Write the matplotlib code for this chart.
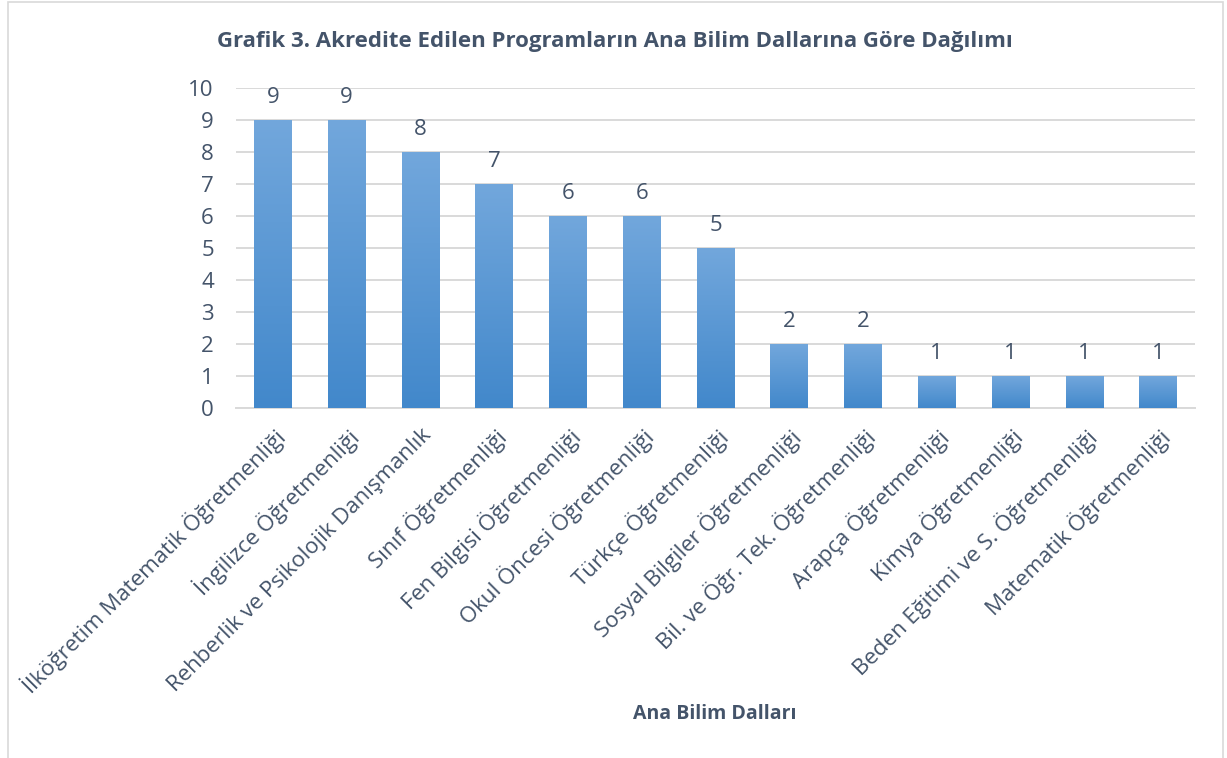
import matplotlib
matplotlib.use("Agg")
import matplotlib.pyplot as plt
import numpy as np
from matplotlib.patches import Rectangle
from matplotlib.colors import LinearSegmentedColormap

categories = ["İlköğretim Matematik Öğretmenliği", "İngilizce Öğretmenliği",
              "Rehberlik ve Psikolojik Danışmanlık", "Sınıf Öğretmenliği",
              "Fen Bilgisi Öğretmenliği", "Okul Öncesi Öğretmenliği",
              "Türkçe Öğretmenliği", "Sosyal Bilgiler Öğretmenliği",
              "Bil. ve Öğr. Tek. Öğretmenliği", "Arapça Öğretmenliği",
              "Kimya Öğretmenliği", "Beden Eğitimi ve S. Öğretmenliği",
              "Matematik Öğretmenliği"]
values = [9, 9, 8, 7, 6, 6, 5, 2, 2, 1, 1, 1, 1]
yticks = list(range(0, 11))

plt.rcParams['font.family'] = ['Open Sans', 'DejaVu Sans']
txt = '#44546a'
fig = plt.figure(figsize=(12.27, 7.58), dpi=100)
ax = fig.add_axes([236/1227, 1-408/758, (1195-236)/1227, (408-88)/758])

x = np.arange(len(categories))
bw = 0.51
bars = ax.bar(x, values, width=bw, color='none', zorder=3)
cmap = LinearSegmentedColormap.from_list('g', ['#4288cb', '#72a7dc'])
for b in bars:
    xx, yy = b.get_x(), b.get_y()
    w, h = b.get_width(), b.get_height()
    im = ax.imshow(np.linspace(0, 1, 256).reshape(-1, 1), cmap=cmap, aspect='auto',
                   extent=[xx, xx + w, yy, yy + h], origin='lower', zorder=3)
    im.set_clip_path(b)

for xi, v in zip(x, values):
    ax.text(xi, v + 0.38, str(v), ha='center', va='bottom', fontsize=16, color=txt, zorder=4)

ax.set_xlim(-0.5, len(categories) - 0.5)
ax.set_ylim(0, 10)
ax.set_yticks(yticks)
ax.set_yticklabels([str(t) for t in yticks], fontsize=16, color=txt)
ax.yaxis.grid(True, color='#d9d9d9', linewidth=1.4, zorder=0)
ax.set_axisbelow(True)
for s in ['top', 'right', 'left']:
    ax.spines[s].set_visible(False)
ax.spines['bottom'].set_color('#d9d9d9')
ax.spines['bottom'].set_linewidth(1.4)
ax.tick_params(axis='both', length=0)
ax.tick_params(axis='y', pad=16)
ax.set_xticks(x)
ax.set_xticklabels(categories, rotation=45, ha='right', rotation_mode='anchor',
                   fontsize=16, color=txt)
ax.tick_params(axis='x', pad=12)

fig.text(615/1227, 1-42/758, "Grafik 3. Akredite Edilen Programların Ana Bilim Dallarına Göre Dağılımı",
         ha='center', va='center', fontsize=16, fontweight='bold', color=txt)
fig.text(715/1227, 1-714/758, "Ana Bilim Dalları", ha='center', va='center',
         fontsize=14, fontweight='bold', color=txt)

fig.patches.append(Rectangle((8/1227, -0.02), (1223-8)/1227, 1.02 - 2/758,
                             transform=fig.transFigure, fill=False,
                             edgecolor='#d9d9d9', linewidth=1.2))
fig.savefig('out.png', dpi=100)
